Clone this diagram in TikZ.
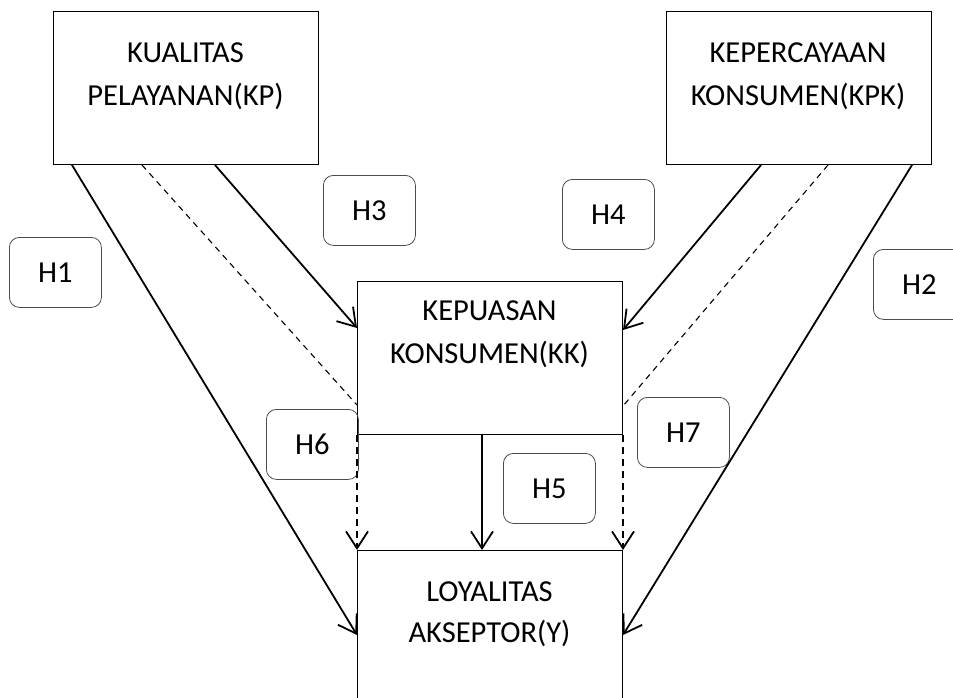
\documentclass[tikz,border=0pt]{standalone}
\usepackage{fontspec}
\setmainfont{Carlito}
\usetikzlibrary{arrows.meta,calc}
\begin{document}
\begin{tikzpicture}[x=1pt,y=-1pt,
  box/.style={draw, line width=1pt, anchor=north west, inner sep=0pt},
  hbox/.style={draw=black!70, line width=0.8pt, rounded corners=10pt, anchor=north west, inner sep=0pt, minimum width=92pt, minimum height=70pt, font=\fontsize{30.5}{36}\selectfont},
  txt/.style={font=\fontsize{30.5}{36}\selectfont, anchor=base, inner sep=0pt},
  conn/.style={line width=1.8pt, -{Straight Barb[length=17pt,width=22pt]}},
  dconn/.style={line width=1.8pt, dash pattern=on 7pt off 5pt, -{Straight Barb[length=17pt,width=22pt]}},
  dline/.style={line width=1.1pt, dash pattern=on 6pt off 5pt}]
\useasboundingbox (0,0) rectangle (953,697);
\clip (0,0) rectangle (953,697);
% main boxes
\node[box, minimum width=265pt, minimum height=153pt] (kp) at (53,11) {};
\node[box, minimum width=265pt, minimum height=153pt] (kpk) at (666,11) {};
\node[box, minimum width=265pt, minimum height=153pt] (kk) at (357,281) {};
\node[box, minimum width=265pt, minimum height=200pt] (y) at (357,550) {};
% box texts
\node[txt] (kp1) at (185.5,62) {KUALITAS};
\node[txt] (kp2) at (185.5,105) {PELAYANAN(KP)};
\node[txt] (kpk1) at (798,62) {KEPERCAYAAN};
\node[txt] (kpk2) at (798,105) {KONSUMEN(KPK)};
\node[txt] (kk1) at (489.5,320) {KEPUASAN};
\node[txt] (kk2) at (489.5,363) {KONSUMEN(KK)};
\node[txt] (y1) at (489.5,601) {LOYALITAS};
\node[txt] (y2) at (489.5,642) {AKSEPTOR(Y)};
% hypothesis labels
\node[hbox] (h1) at (9,237) {H1};
\node[hbox] (h3) at (323,175) {H3};
\node[hbox] (h4) at (562,179) {H4};
\node[hbox] (h2) at (873,249) {H2};
\node[hbox] (h6) at (266,409) {H6};
\node[hbox] (h7) at (637,397) {H7};
\node[hbox] (h5) at (503,453) {H5};
% connectors
\draw[conn] ($(kp.south west)+(19,0)$) -- ($(y.north west)+(0,85)$);
\draw[dline] ($(kp.south west)+(89,0)$) -- ($(kk.north west)+(0,124)$);
\draw[conn] ($(kp.south west)+(162,0)$) -- ($(kk.north west)+(0,47)$);
\draw[conn] ($(kpk.south west)+(95,0)$) -- ($(kk.north east)+(0,49)$);
\draw[dline] ($(kpk.south west)+(162,0)$) -- ($(kk.north east)+(0,125)$);
\draw[conn] ($(kpk.south west)+(246,0)$) -- ($(y.north east)+(0,85)$);
\draw[conn] ($(kk.south west)+(125,0)$) -- ($(y.north west)+(125,0)$);
\draw[dconn] (kk.south west) -- (y.north west);
\draw[dconn] (kk.south east) -- (y.north east);
\end{tikzpicture}
\end{document}
